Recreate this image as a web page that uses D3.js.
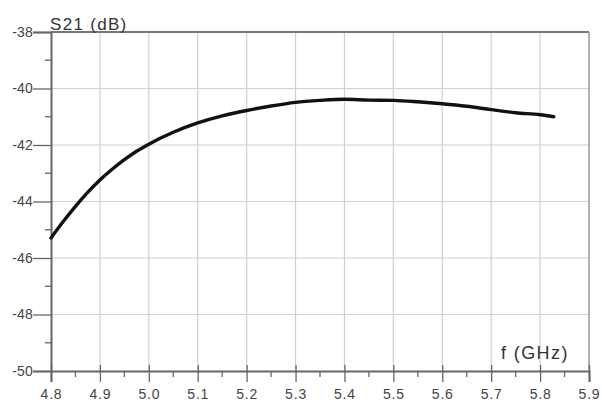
<!DOCTYPE html>
<html><head><meta charset="utf-8">
<script src="https://cdn.jsdelivr.net/npm/d3@7"></script>
<style>body{margin:0;background:#fff}svg{display:block}text{font-family:"Liberation Sans",Arial,sans-serif}</style>
</head><body><svg id="c" width="602" height="403"></svg>
<script>
const freq = [4.80,4.825,4.85,4.875,4.90,4.925,4.95,4.975,5.00,5.05,5.10,5.15,5.20,5.25,5.30,5.35,5.40,5.45,5.50,5.55,5.60,5.65,5.70,5.75,5.80,5.828];
const s21  = [-45.29,-44.71,-44.17,-43.68,-43.24,-42.86,-42.52,-42.22,-41.97,-41.55,-41.22,-40.97,-40.78,-40.62,-40.49,-40.42,-40.38,-40.41,-40.42,-40.47,-40.54,-40.63,-40.75,-40.86,-40.93,-41.00];
const xTicks = [4.8,4.9,5.0,5.1,5.2,5.3,5.4,5.5,5.6,5.7,5.8,5.9];
const yTicks = [-38,-40,-42,-44,-46,-48,-50];
const yLabel = "S21 (dB)";
const xLabel = "f (GHz)";

const svg = d3.select("#c");
const L=51,R=589,T=32,B=371;
const x = d3.scaleLinear().domain([4.8,5.9]).range([L,R]);
const y = d3.scaleLinear().domain([-50,-38]).range([B,T]);

// grid
svg.append("g").selectAll("line").data(xTicks.slice(1,-1)).join("line")
  .attr("x1",d=>x(d)).attr("x2",d=>x(d)).attr("y1",T).attr("y2",B)
  .attr("stroke","#d0d0d0").attr("stroke-width",1.2);
svg.append("g").selectAll("line").data(yTicks.slice(1,-1)).join("line")
  .attr("y1",d=>y(d)).attr("y2",d=>y(d)).attr("x1",L).attr("x2",R)
  .attr("stroke","#d0d0d0").attr("stroke-width",1.2);
// frame top/right
svg.append("line").attr("x1",L).attr("x2",R).attr("y1",T).attr("y2",T).attr("stroke","#777").attr("stroke-width",2);
svg.append("line").attr("x1",R).attr("x2",R).attr("y1",T).attr("y2",B).attr("stroke","#999").attr("stroke-width",1.5);

// axes
const minorX = d3.range(4.85,5.9,0.1);
const minorY = d3.range(-49,-38,2);
const xa = svg.append("g").attr("transform",`translate(0,${B})`)
  .call(d3.axisBottom(x).tickValues(xTicks).tickFormat(d3.format(".1f")).tickSize(11).tickPadding(7));
const ya = svg.append("g").attr("transform",`translate(${L},0)`)
  .call(d3.axisLeft(y).tickValues(yTicks).tickFormat(d=>d).tickSize(18).tickPadding(0));
xa.selectAll(".tick line").attr("y1",-6);
[xa,ya].forEach(a=>{
  a.select(".domain").attr("stroke","#666").attr("stroke-width",2);
  a.selectAll(".tick line").attr("stroke","#666").attr("stroke-width",1.3);
  a.selectAll("text").attr("fill","#444").style("font-size","14px").style("font-family","'Liberation Sans',Arial,sans-serif");
});
xa.selectAll("text").style("letter-spacing","0.8px");
ya.selectAll("text").style("letter-spacing","0.2px");
xa.append("g").selectAll("line").data(minorX).join("line")
  .attr("x1",d=>x(d)).attr("x2",d=>x(d)).attr("y1",1).attr("y2",6).attr("stroke","#666").attr("stroke-width",1.3);
ya.append("g").selectAll("line").data(minorY).join("line")
  .attr("y1",d=>y(d)).attr("y2",d=>y(d)).attr("x1",0).attr("x2",-6).attr("stroke","#666").attr("stroke-width",1.3);

// curve
svg.append("path").datum(freq.map((f,i)=>[f,s21[i]]))
  .attr("d",d3.line().x(d=>x(d[0])).y(d=>y(d[1])).curve(d3.curveMonotoneX))
  .attr("fill","none").attr("stroke","#111").attr("stroke-width",3.4).attr("stroke-linecap","round");

svg.append("text").attr("x",50).attr("y",30).text(yLabel).attr("fill","#333").style("font-size","17px").style("letter-spacing","1.3px");
svg.append("text").attr("x",501).attr("y",359).text(xLabel).attr("fill","#333").style("font-size","18px").style("letter-spacing","1.4px");
</script></body></html>
